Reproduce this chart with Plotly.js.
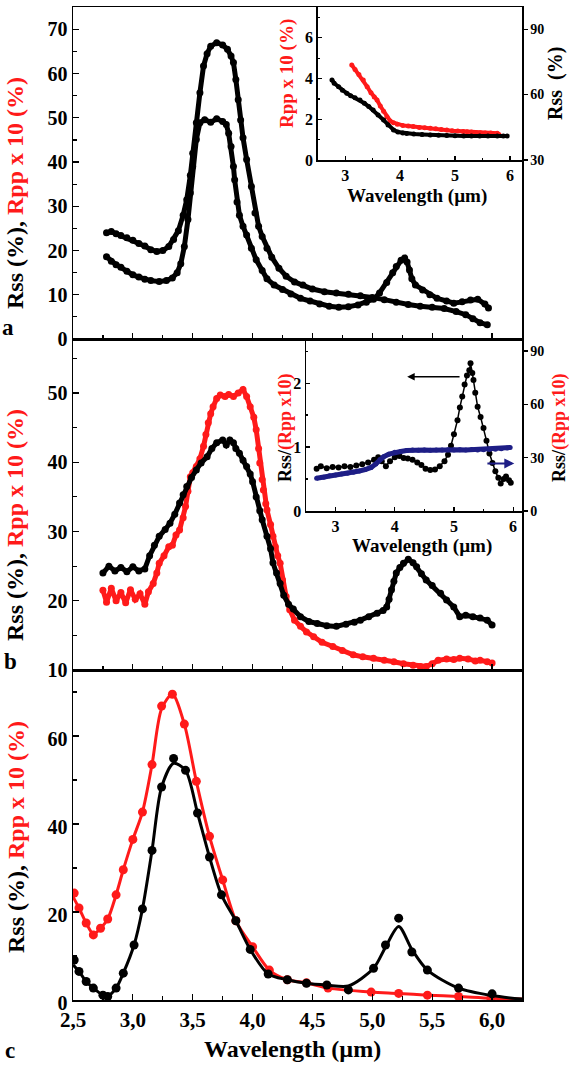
<!DOCTYPE html>
<html>
<head>
<meta charset="utf-8">
<script src="https://cdn.plot.ly/plotly-3.0.1.min.js"></script>
<style>html,body{margin:0;padding:0;background:#fff;}#chart{width:569px;height:1066px;}</style>
</head>
<body>
<div id="chart"></div>
<script>
// ---------- Panel a (main) ----------
const aUpperX = [2.78,2.82,2.86,2.90,2.95,3.00,3.05,3.10,3.15,3.20,3.25,3.30,3.34,3.38,3.42,3.45,3.48,3.50,3.53,3.56,3.59,3.62,3.65,3.70,3.75,3.79,3.82,3.84,3.86,3.88,3.90,3.92,3.95,3.99,4.02,4.05,4.08,4.12,4.16,4.22,4.28,4.35,4.42,4.50,4.60,4.70,4.80,4.90,5.00,5.10,5.20,5.30,5.40,5.50,5.60,5.70,5.78,5.84,5.90,5.96];
const aUpperY = [24.0,24.3,23.8,23.4,22.9,22.3,21.6,21.0,20.2,19.8,20.0,20.9,22.5,24.5,28.0,31.5,37.0,42.0,48.9,55.7,61.7,64.5,66.2,67.0,66.5,65.5,64.0,62.5,58.7,54.1,49.5,45.5,40.6,34.5,28.5,25.5,23.2,20.5,18.5,16.0,14.2,12.9,12.2,11.3,10.7,10.4,10.1,9.8,9.4,8.9,8.3,7.8,7.4,7.2,6.9,6.2,5.5,4.6,3.7,3.2];
const aLowerX = [2.78,2.82,2.86,2.90,2.95,3.00,3.05,3.10,3.15,3.22,3.28,3.33,3.37,3.40,3.43,3.46,3.48,3.50,3.53,3.56,3.60,3.65,3.70,3.75,3.78,3.80,3.82,3.84,3.85,3.87,3.89,3.92,3.95,3.99,4.03,4.08,4.12,4.18,4.25,4.32,4.40,4.48,4.56,4.64,4.72,4.80,4.88,4.95,5.01,5.06,5.12,5.17,5.20,5.24,5.27,5.29,5.31,5.33,5.36,5.42,5.48,5.54,5.62,5.68,5.75,5.82,5.88,5.94,5.97];
const aLowerY = [18.6,17.6,16.8,16.2,15.3,14.5,14.0,13.5,13.2,13.0,13.2,13.8,15.0,17.0,20.9,27.0,33.0,39.0,45.1,48.9,49.6,49.0,49.8,49.2,48.5,46.5,43.5,39.0,36.0,31.0,28.0,25.5,23.5,20.5,17.9,15.5,13.6,12.2,11.2,10.2,9.2,8.6,7.9,7.4,7.2,7.3,7.7,8.3,9.0,10.4,12.8,15.0,16.4,17.8,18.3,17.4,15.6,13.6,12.2,11.1,10.0,9.2,8.6,8.1,8.4,8.8,9.0,7.9,7.0];

// ---------- Panel a (inset) ----------
const aInRppX = [3.12,3.18,3.25,3.33,3.40,3.47,3.53,3.58,3.64,3.70,3.76,3.82,3.88,3.95,4.05,4.15,4.24,4.35,4.45,4.55,4.65,4.75,4.85,4.95,5.05,5.15,5.22,5.30,5.38,5.46,5.55,5.65,5.77,5.80];
const aInRppY = [4.67,4.45,4.20,3.93,3.60,3.30,3.10,2.95,2.65,2.40,2.13,1.92,1.83,1.76,1.70,1.67,1.64,1.60,1.58,1.56,1.53,1.50,1.47,1.44,1.42,1.40,1.39,1.37,1.35,1.34,1.33,1.32,1.31,1.25];
const aInRssX = [2.76,2.80,2.88,2.95,3.03,3.10,3.18,3.27,3.35,3.43,3.51,3.60,3.70,3.78,3.88,3.96,4.05,4.12,4.25,4.40,4.55,4.70,4.85,5.00,5.16,5.30,5.45,5.60,5.77,5.88,5.95];
const aInRssY = [66.7,65.2,63.6,62.0,60.6,59.5,58.5,57.5,56.0,54.5,52.9,50.6,48.3,46.0,43.8,42.8,42.4,42.2,41.9,41.7,41.5,41.3,41.2,41.1,41.0,41.0,41.0,41.0,41.0,41.0,41.0];

// ---------- Panel b (main) ----------
const bRssX = [2.75,2.80,2.85,2.90,2.95,3.00,3.05,3.10,3.14,3.18,3.22,3.27,3.31,3.35,3.39,3.42,3.45,3.49,3.53,3.57,3.62,3.66,3.70,3.75,3.78,3.81,3.84,3.86,3.89,3.92,3.95,3.98,4.00,4.03,4.06,4.08,4.12,4.15,4.17,4.20,4.23,4.26,4.30,4.34,4.40,4.47,4.54,4.62,4.70,4.78,4.85,4.90,4.97,5.04,5.09,5.12,5.14,5.16,5.18,5.20,5.23,5.26,5.30,5.34,5.37,5.41,5.45,5.50,5.57,5.62,5.68,5.73,5.78,5.84,5.90,5.96,6.00];
const bRssY = [24.0,25.0,24.3,24.8,24.2,24.9,24.3,24.6,26.5,28.0,29.3,30.3,31.2,32.5,34.1,35.3,36.5,37.8,38.9,39.9,40.8,42.0,42.8,43.2,42.5,43.2,42.8,42.0,41.3,40.3,39.4,38.3,37.2,35.0,33.0,31.7,29.3,27.5,25.5,24.0,22.5,20.8,19.5,18.8,17.7,17.0,16.7,16.4,16.3,16.6,16.9,17.2,17.7,18.2,18.6,19.1,20.2,21.6,22.8,24.0,24.8,25.4,26.0,25.5,24.9,23.9,23.0,22.2,21.1,20.1,19.1,17.7,17.9,17.7,17.5,17.2,16.5];
const bRppX = [2.75,2.78,2.82,2.86,2.90,2.94,2.98,3.02,3.06,3.10,3.13,3.17,3.20,3.22,3.26,3.30,3.33,3.36,3.39,3.42,3.44,3.46,3.48,3.50,3.53,3.56,3.59,3.61,3.63,3.65,3.67,3.70,3.73,3.77,3.80,3.84,3.88,3.92,3.95,3.98,4.01,4.03,4.05,4.06,4.08,4.09,4.11,4.12,4.15,4.17,4.19,4.21,4.23,4.25,4.28,4.31,4.35,4.40,4.45,4.51,4.58,4.67,4.75,4.84,4.92,5.01,5.10,5.18,5.26,5.34,5.40,5.45,5.50,5.55,5.62,5.68,5.73,5.80,5.86,5.90,5.96,6.00];
const bRppY = [21.5,19.8,21.8,20.0,21.2,19.7,21.6,20.2,21.0,19.5,21.3,22.5,24.0,25.4,26.5,27.8,28.0,29.5,30.2,32.0,33.6,35.8,37.9,38.5,39.4,40.5,42.3,44.0,45.7,47.0,48.0,49.2,49.7,49.5,49.8,49.5,50.0,50.5,49.5,48.0,46.5,44.7,42.0,39.9,37.5,36.0,34.0,33.1,31.0,29.3,27.8,26.5,25.4,23.0,20.6,18.7,17.2,16.3,15.5,14.8,14.0,13.4,12.8,12.2,11.9,11.7,11.4,11.2,10.9,10.7,10.5,10.5,10.9,11.4,11.6,11.5,11.7,11.6,11.3,11.4,11.2,11.0];

// ---------- Panel b (inset) ----------
const bInRatioX = [2.68,2.75,2.85,2.95,3.05,3.15,3.25,3.35,3.45,3.55,3.65,3.72,3.78,3.85,3.92,4.00,4.08,4.15,4.22,4.30,4.38,4.45,4.52,4.60,4.68,4.76,4.84,4.90,4.95,5.00,5.06,5.10,5.14,5.18,5.22,5.26,5.28,5.31,5.33,5.36,5.40,5.45,5.50,5.55,5.60,5.65,5.70,5.75,5.79,5.84,5.88,5.93,5.96];
const bInRatioY = [0.66,0.70,0.67,0.69,0.68,0.70,0.69,0.71,0.73,0.76,0.80,0.84,0.78,0.70,0.78,0.84,0.86,0.83,0.82,0.80,0.76,0.72,0.66,0.64,0.65,0.70,0.78,0.88,1.02,1.20,1.42,1.62,1.79,1.98,2.12,2.20,2.31,2.16,2.05,1.85,1.63,1.47,1.30,1.10,0.90,0.75,0.62,0.52,0.43,0.50,0.54,0.48,0.44];
const bInBlueX = [2.68,2.80,2.90,3.00,3.10,3.20,3.30,3.40,3.50,3.60,3.68,3.75,3.81,3.90,4.00,4.10,4.20,4.30,4.40,4.50,4.60,4.70,4.80,4.90,5.00,5.10,5.20,5.30,5.40,5.50,5.60,5.70,5.80,5.90,5.95];
const bInBlueY = [18.4,19.0,19.8,20.3,20.8,21.2,21.8,22.5,23.3,24.5,26.5,29.0,30.5,32.0,33.0,33.5,34.0,34.3,34.2,34.4,34.2,34.4,34.3,34.5,34.3,34.5,34.4,34.6,34.3,34.5,34.6,34.8,35.0,35.4,35.8];

// ---------- Panel c ----------
const cRppX = [2.51,2.55,2.61,2.67,2.73,2.79,2.86,2.92,3.00,3.08,3.16,3.24,3.33,3.43,3.53,3.64,3.75,3.86,4.00,4.14,4.29,4.45,4.63,4.99,5.22,5.46,5.72,5.99];
const cRppY = [24.3,20.9,17.5,14.8,16.3,18.4,23.9,29.6,36.5,42.7,53.5,66.8,69.5,62.7,49.7,37.2,27.3,18.0,12.1,6.8,4.6,3.9,2.7,1.8,1.5,1.1,0.8,0.4];
const cRppFitX = [2.50,2.55,2.61,2.67,2.73,2.79,2.86,2.92,3.00,3.08,3.16,3.24,3.33,3.43,3.53,3.64,3.75,3.86,4.00,4.14,4.29,4.45,4.63,4.99,5.22,5.46,5.72,5.99,6.25];
const cRppFitY = [23.5,20.9,17.5,15.0,16.3,18.4,23.9,29.6,36.5,42.7,53.5,66.2,69.5,62.7,49.7,37.2,27.3,18.0,12.1,6.8,4.6,3.9,2.7,1.8,1.5,1.1,0.8,0.4,0.2];
const cRssX = [2.51,2.55,2.61,2.67,2.75,2.79,2.86,2.92,3.01,3.08,3.16,3.24,3.34,3.44,3.54,3.64,3.74,3.86,3.98,4.13,4.29,4.45,4.62,4.80,5.01,5.11,5.22,5.33,5.46,5.72,6.00];
const cRssY = [9.1,6.5,4.2,2.7,1.1,0.8,2.7,6.1,12.5,20.7,34.0,48.4,54.9,52.2,42.5,32.5,23.9,18.0,11.5,5.9,4.6,3.8,3.4,2.3,7.2,12.5,18.6,10.9,6.8,2.7,1.4];
const cRssFitX = [2.50,2.55,2.61,2.67,2.75,2.79,2.86,2.92,3.01,3.08,3.16,3.24,3.34,3.44,3.54,3.64,3.74,3.86,3.98,4.13,4.29,4.45,4.62,4.80,5.01,5.11,5.22,5.33,5.46,5.72,6.00,6.25];
const cRssFitY = [8.0,6.5,4.2,2.7,1.1,0.9,2.7,6.1,12.5,20.7,34.0,48.4,53.8,52.2,42.5,32.5,23.9,18.0,11.5,5.9,4.6,3.8,3.4,3.2,7.2,12.0,16.7,11.5,6.8,2.7,1.0,0.2];

// ---------- Tick labels / titles ----------
const aYTicks = [0,10,20,30,40,50,60,70];
const aInXTicks = [3,4,5,6];
const aInY1Ticks = [0,2,4,6];
const aInY2Ticks = [30,60,90];
const bYTicks = [10,20,30,40,50];
const bInXTicks = [3,4,5,6];
const bInY1Ticks = [0,1,2];
const bInY2Ticks = [0,30,60,90];
const cXTicks = [2.5,3.0,3.5,4.0,4.5,5.0,5.5,6.0];
const cXTickText = ['2,5','3,0','3,5','4,0','4,5','5,0','5,5','6,0'];
const cYTicks = [0,20,40,60];
const yTitleMain = 'Rss (%), <span style="color:#ff1a1a">Rpp x 10 (%)</span>';
const insetAY1Title = 'Rpp x 10 (%)';
const insetAY2Title = 'Rss  (%)';
const insetBYTitle = 'Rss/<span style="color:#ff1a1a">(Rpp x10)</span>';
const xTitle = 'Wavelength (µm)';
const panelLetters = ['a','b','c'];

// ---------- Layout helpers ----------
const W = 569, H = 1066;
const SERIF = 'Liberation Serif';
const RED = '#ff1a1a', BLACK = '#000000', BLUE = '#1e1e86';
const px = v => v / W;
const py = v => 1 - v / H;
const B = s => '<b>' + s + '</b>';
function font(size, color) { return {family: SERIF, size: size, color: color || BLACK}; }
function ax(o) {
  return Object.assign({
    showgrid: false, zeroline: false, showline: true, linecolor: BLACK, linewidth: 1.5,
    ticks: 'inside', ticklen: 6, tickwidth: 1.2, tickcolor: BLACK, fixedrange: true,
    tickfont: font(16), tickmode: 'array'
  }, o);
}
function tk(vals, texts) { return {tickvals: vals, ticktext: (texts || vals.map(String)).map(B)}; }
function minor(d, t0, len) { return {tickmode: 'linear', tick0: t0, dtick: d, ticks: 'inside', ticklen: len || 4, tickcolor: BLACK}; }
const mainX = [px(73), px(522)];

const layout = {
  width: W, height: H, margin: {l: 0, r: 0, t: 0, b: 0},
  paper_bgcolor: '#fff', plot_bgcolor: 'rgba(0,0,0,0)', showlegend: false,
  font: {family: SERIF, color: BLACK},
  // panel a main
  xaxis: ax(Object.assign({domain: mainX, anchor: 'y', range: [2.5, 6.25], showticklabels: false, mirror: true,
             minor: minor(0.25, 2.5)}, tk(cXTicks, cXTickText))),
  yaxis: ax(Object.assign({domain: [py(339), py(7.3)], anchor: 'x', range: [0, 75], mirror: true,
             minor: minor(5, 0), tickfont: font(20)}, tk(aYTicks))),
  // panel a inset
  xaxis2: ax(Object.assign({domain: [px(317.7), px(522)], anchor: 'y2', range: [2.5, 6.22], ticklen: 4,
              minor: minor(0.5, 0, 2), tickfont: font(16)}, tk(aInXTicks))),
  yaxis2: ax(Object.assign({domain: [py(160), py(7.3)], anchor: 'x2', range: [0, 7.5], ticklen: 4,
              minor: minor(1, 0, 2), tickfont: font(16)}, tk(aInY1Ticks))),
  yaxis3: ax(Object.assign({overlaying: 'y2', side: 'right', anchor: 'x2', range: [30, 100], ticks: 'outside', ticklen: 4,
              tickfont: font(14)}, tk(aInY2Ticks))),
  // panel b main
  xaxis4: ax(Object.assign({domain: mainX, anchor: 'y4', range: [2.5, 6.25], showticklabels: false, mirror: true,
              minor: minor(0.25, 2.5)}, tk(cXTicks, cXTickText))),
  yaxis4: ax(Object.assign({domain: [py(670), py(339)], anchor: 'x4', range: [10, 57.8], mirror: true,
              minor: minor(5, 0), tickfont: font(20)}, tk(bYTicks))),
  // panel b inset
  xaxis5: ax(Object.assign({domain: [px(306), px(522)], anchor: 'y5', range: [2.5, 6.15], ticklen: 4,
              minor: minor(0.5, 0, 2), tickfont: font(16)}, tk(bInXTicks))),
  yaxis5: ax(Object.assign({domain: [py(511), py(339)], anchor: 'x5', range: [0, 2.69], ticklen: 4,
              minor: minor(0.5, 0, 2), tickfont: font(16)}, tk(bInY1Ticks))),
  yaxis6: ax(Object.assign({overlaying: 'y5', side: 'right', anchor: 'x5', range: [0, 96.8], ticks: 'outside', ticklen: 4,
              tickfont: font(14)}, tk(bInY2Ticks))),
  // panel c
  xaxis7: ax(Object.assign({domain: mainX, anchor: 'y7', range: [2.5, 6.25], mirror: true,
              minor: minor(0.25, 2.5), tickfont: font(21)}, tk(cXTicks, cXTickText))),
  yaxis7: ax(Object.assign({domain: [py(1000), py(670)], anchor: 'x7', range: [0, 75], mirror: true,
              minor: minor(10, 0), tickfont: font(20), ticklabelshift: 3}, tk(cYTicks))),
  annotations: []
};

function note(text, x, y, size, opts) {
  return Object.assign({text: B(text), xref: 'paper', yref: 'paper', x: px(x), y: py(y), showarrow: false,
    xanchor: 'center', yanchor: 'middle', font: font(size)}, opts || {});
}
layout.annotations.push(
  note(yTitleMain, 15, 193, 24, {textangle: -90}),
  note(yTitleMain, 15, 525, 24, {textangle: -90}),
  note(yTitleMain, 16, 837, 24, {textangle: -90}),
  note(insetAY1Title, 287, 74, 19, {textangle: -90, font: font(19, RED)}),
  note(insetAY2Title, 555, 84, 20, {textangle: -90}),
  note(xTitle, 417, 196, 19),
  note(insetBYTitle, 285, 428, 18, {textangle: -90}),
  note(insetBYTitle, 559, 428, 18, {textangle: -90}),
  note(xTitle, 422, 546, 19),
  note(xTitle, 292, 1049, 24),
  note(panelLetters[0], 8, 327, 23),
  note(panelLetters[1], 10, 661, 23),
  note(panelLetters[2], 10, 1050, 23),
  // arrows in inset b
  {text: '', xref: 'x5', yref: 'y5', x: 4.21, y: 2.10, axref: 'x5', ayref: 'y5', ax: 5.12, ay: 2.10,
   showarrow: true, arrowhead: 2, arrowsize: 1, arrowwidth: 1.5, arrowcolor: BLACK},
  {text: '', xref: 'x5', yref: 'y6', x: 6.02, y: 26.8, axref: 'x5', ayref: 'y6', ax: 5.54, ay: 26.8,
   showarrow: true, arrowhead: 2, arrowsize: 1, arrowwidth: 2, arrowcolor: BLUE}
);

function dense(x, y, xa, ya, color, lw, ms) {
  return {x: x, y: y, xaxis: xa, yaxis: ya, type: 'scatter', mode: 'lines+markers',
    line: {color: color, width: lw}, marker: {color: color, size: ms}, hoverinfo: 'skip'};
}
const traces = [
  dense(aUpperX, aUpperY, 'x', 'y', BLACK, 5, 7),
  dense(aLowerX, aLowerY, 'x', 'y', BLACK, 5, 7),
  dense(aInRppX, aInRppY, 'x2', 'y2', RED, 4, 5),
  dense(aInRssX, aInRssY, 'x2', 'y3', BLACK, 4, 5),
  dense(bRppX, bRppY, 'x4', 'y4', RED, 5, 7),
  dense(bRssX, bRssY, 'x4', 'y4', BLACK, 5, 7),
  dense(bInBlueX, bInBlueY, 'x5', 'y6', BLUE, 5, 5),
  dense(bInRatioX, bInRatioY, 'x5', 'y5', BLACK, 1.5, 6),
  {x: cRppFitX, y: cRppFitY, xaxis: 'x7', yaxis: 'y7', type: 'scatter', mode: 'lines',
   line: {color: RED, width: 3, shape: 'spline', smoothing: 0.8}, hoverinfo: 'skip'},
  {x: cRppX, y: cRppY, xaxis: 'x7', yaxis: 'y7', type: 'scatter', mode: 'markers',
   marker: {color: RED, size: 9}, hoverinfo: 'skip'},
  {x: cRssFitX, y: cRssFitY, xaxis: 'x7', yaxis: 'y7', type: 'scatter', mode: 'lines',
   line: {color: BLACK, width: 3, shape: 'spline', smoothing: 0.8}, hoverinfo: 'skip'},
  {x: cRssX, y: cRssY, xaxis: 'x7', yaxis: 'y7', type: 'scatter', mode: 'markers',
   marker: {color: BLACK, size: 9}, hoverinfo: 'skip'}
];

Plotly.newPlot('chart', traces, layout, {staticPlot: true, displayModeBar: false});
</script>
</body>
</html>
